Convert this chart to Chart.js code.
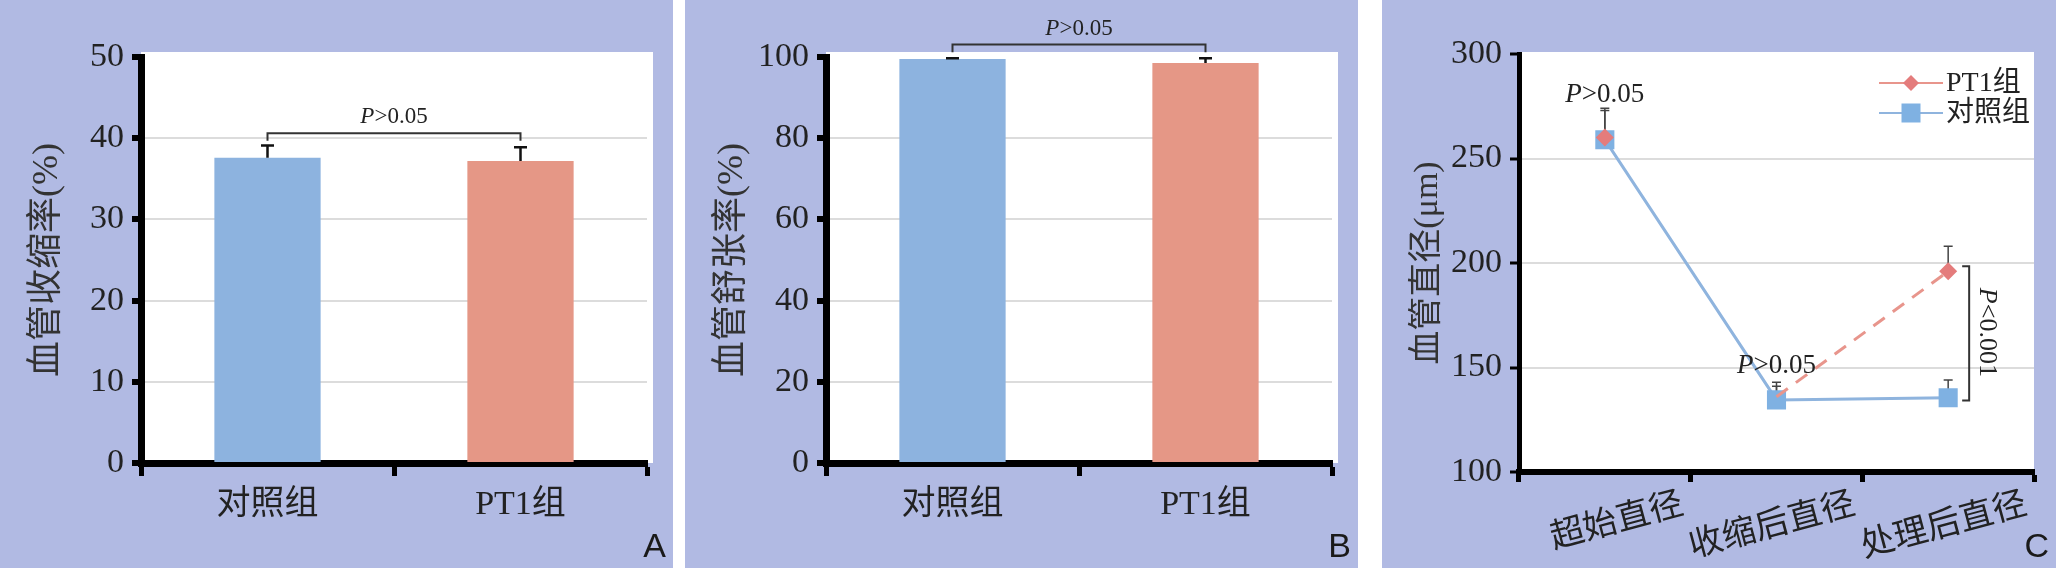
<!DOCTYPE html>
<html lang="zh">
<head>
<meta charset="utf-8">
<title>血管收缩率 / 舒张率 / 直径</title>
<script src="https://cdn.jsdelivr.net/npm/chart.js@4.4.1/dist/chart.umd.min.js"></script>
<style>
  html, body { margin: 0; padding: 0; background: #fff; }
  body { width: 2056px; height: 568px; position: relative; overflow: hidden; }
  .panel { position: absolute; top: 0; height: 568px; background: #b1bae3; }
  canvas { display: block; }
</style>
</head>
<body>
<div class="panel" style="left:0;width:673px"><canvas id="cA" width="673" height="568"></canvas></div>
<div class="panel" style="left:685px;width:673px"><canvas id="cB" width="673" height="568"></canvas></div>
<div class="panel" style="left:1382px;width:674px"><canvas id="cC" width="674" height="568"></canvas></div>

<script>
// values
const groups = ['对照组', 'PT1组'];
const contractRate = [37.6, 37.2];   // 血管收缩率 (%)
const contractSd = [1.5, 1.7];
const dilateRate = [99.5, 98.5];     // 血管舒张率 (%)
const dilateSd = [0.2, 1.2];

const stages = ['超始直径', '收缩后直径', '处理后直径'];
const pt1Diam = [260, 136, 196];     // 血管直径 (μm)
const pt1Sd = [14, 7, 12];
const ctrlDiam = [259, 134.5, 135.5];
const ctrlSd = [14, 6.5, 8.5];

const barColors = ['#8db3df', '#e59786'];
const SERIF = "'Liberation Serif', 'Noto Sans CJK SC', serif";
Chart.defaults.font.family = SERIF;
Chart.defaults.color = '#222';

// "P" in italics, the rest upright
function drawP(ctx, rest, x, y, size, rot) {
  ctx.save();
  ctx.translate(x, y);
  if (rot) ctx.rotate(rot);
  ctx.fillStyle = '#222';
  ctx.textBaseline = 'middle';
  ctx.textAlign = 'left';
  ctx.font = 'italic ' + size + 'px ' + SERIF;
  const wP = ctx.measureText('P').width;
  ctx.font = size + 'px ' + SERIF;
  const wR = ctx.measureText(rest).width;
  const x0 = -(wP + wR) / 2;
  ctx.font = 'italic ' + size + 'px ' + SERIF;
  ctx.fillText('P', x0, 0);
  ctx.font = size + 'px ' + SERIF;
  ctx.fillText(rest, x0 + wP, 0);
  ctx.restore();
}

const plotBg = {
  id: 'plotBg',
  beforeDraw(chart, args, o) {
    const a = chart.chartArea, ctx = chart.ctx;
    ctx.save();
    ctx.fillStyle = '#fff';
    ctx.fillRect(a.left, a.top - o.top, a.right - a.left + o.right, a.bottom - a.top + o.top);
    ctx.restore();
  }
};

function drawErr(chart, o) {
  const ctx = chart.ctx, ys = chart.scales.y;
  chart.data.datasets.forEach((ds, di) => {
    if (!ds.sd) return;
    const meta = chart.getDatasetMeta(di);
    ds.data.forEach((v, i) => {
      const x = meta.data[i].x;
      const y0 = ys.getPixelForValue(v), y1 = ys.getPixelForValue(v + ds.sd[i]);
      ctx.save();
      ctx.strokeStyle = o.color;
      ctx.lineWidth = o.width;
      ctx.beginPath();
      ctx.moveTo(x, y0); ctx.lineTo(x, y1);
      ctx.moveTo(x - o.cap / 2, y1); ctx.lineTo(x + o.cap / 2, y1);
      ctx.stroke();
      ctx.restore();
    });
  });
}

const errBars = {
  id: 'errBars',
  beforeDatasetsDraw(chart, args, o) { if (o.before) drawErr(chart, o); },
  afterDatasetsDraw(chart, args, o) { if (!o.before) drawErr(chart, o); }
};

const bracket = {
  id: 'bracket',
  afterDraw(chart, args, o) {
    const ctx = chart.ctx, ys = chart.scales.y, meta = chart.getDatasetMeta(0);
    const x1 = meta.data[0].x, x2 = meta.data[1].x;
    const yt = ys.getPixelForValue(o.at), yl = ys.getPixelForValue(o.leg);
    ctx.save();
    ctx.strokeStyle = '#333';
    ctx.lineWidth = 2;
    ctx.beginPath();
    ctx.moveTo(x1, yl); ctx.lineTo(x1, yt); ctx.lineTo(x2, yt); ctx.lineTo(x2, yl);
    ctx.stroke();
    ctx.restore();
    drawP(ctx, '>0.05', (x1 + x2) / 2, ys.getPixelForValue(o.textAt), o.size);
  }
};

const tag = {
  id: 'tag',
  afterDraw(chart, args, o) {
    const ctx = chart.ctx;
    ctx.save();
    ctx.fillStyle = '#1a1a1a';
    ctx.font = "34px 'Liberation Sans', sans-serif";
    ctx.textAlign = 'right';
    ctx.textBaseline = 'alphabetic';
    ctx.fillText(o.text, chart.width - 7, 557);
    ctx.restore();
  }
};

function barPanel(id, vals, sds, opt) {
  return new Chart(document.getElementById(id), {
    type: 'bar',
    data: {
      labels: groups,
      datasets: [{ data: vals, sd: sds, backgroundColor: barColors, categoryPercentage: 1, barPercentage: 0.42 }]
    },
    options: {
      responsive: false, animation: false, devicePixelRatio: 1,
      layout: { padding: { top: 57, right: 26, left: 0, bottom: 0 } },
      plugins: {
        legend: { display: false },
        tooltip: { enabled: false },
        plotBg: { top: 5, right: 6 },
        errBars: { color: '#111', width: 2.5, cap: 13 },
        bracket: opt.bracket,
        tag: { text: opt.tag }
      },
      scales: {
        x: {
          grid: { offset: true, drawOnChartArea: false, tickLength: 13, tickWidth: 5, tickColor: '#000' },
          border: { color: '#000', width: 7 },
          ticks: { color: '#222', font: { family: SERIF, size: 34 }, padding: 9 },
          afterFit: s => { s.height = 105; }
        },
        y: {
          min: 0, max: opt.max,
          ticks: { stepSize: opt.step, color: '#222', font: { family: SERIF, size: 34 }, padding: 8 },
          grid: {
            color: c => (c.tick.value === 0 || c.tick.value === opt.max) ? 'rgba(0,0,0,0)' : '#dcdcdc',
            lineWidth: 2, tickLength: 9, tickWidth: 6, tickColor: '#000'
          },
          border: { color: '#000', width: 7 },
          title: { display: true, text: opt.title, color: '#333', font: { family: SERIF, size: 36 }, padding: { top: 26, bottom: 0 } },
          afterFit: s => { s.width = 141; }
        }
      }
    },
    plugins: [plotBg, errBars, bracket, tag]
  });
}

barPanel('cA', contractRate, contractSd, {
  max: 50, step: 10, title: '血管收缩率(%)', tag: 'A',
  bracket: { at: 40.6, leg: 39.7, textAt: 42.6, size: 23 }
});
barPanel('cB', dilateRate, dilateSd, {
  max: 100, step: 20, title: '血管舒张率(%)', tag: 'B',
  bracket: { at: 103.1, leg: 101.2, textAt: 107, size: 23 }
});

// panel C extras: legend, significance marks
const lineLegend = {
  id: 'lineLegend',
  afterDraw(chart, args, o) {
    const ctx = chart.ctx;
    chart.data.datasets.forEach((ds, i) => {
      const y = o.y + i * o.gap, cx = o.x + o.len / 2;
      ctx.save();
      ctx.strokeStyle = ds.borderColor;
      ctx.lineWidth = 2;
      ctx.beginPath(); ctx.moveTo(o.x, y); ctx.lineTo(o.x + o.len, y); ctx.stroke();
      ctx.fillStyle = ds.pointBackgroundColor;
      ctx.beginPath();
      if (ds.pointStyle === 'rectRot') {
        ctx.moveTo(cx, y - 8); ctx.lineTo(cx + 8, y); ctx.lineTo(cx, y + 8); ctx.lineTo(cx - 8, y);
        ctx.closePath();
      } else {
        ctx.rect(cx - 9.5, y - 9.5, 19, 19);
      }
      ctx.fill();
      ctx.fillStyle = '#222';
      ctx.font = '28px ' + SERIF;
      ctx.textBaseline = 'middle';
      ctx.fillText(ds.label, o.x + o.len + 3, y + 1);
      ctx.restore();
    });
  }
};

const sigMarks = {
  id: 'sigMarks',
  afterDraw(chart) {
    const ctx = chart.ctx, ys = chart.scales.y, xs = chart.scales.x;
    drawP(ctx, '>0.05', xs.getPixelForValue(0), ys.getPixelForValue(280.2), 27);
    drawP(ctx, '>0.05', xs.getPixelForValue(1), ys.getPixelForValue(150.7), 27);
    const bx = xs.getPixelForValue(2) + 21;
    const yt = ys.getPixelForValue(198.4), yb = ys.getPixelForValue(134.2);
    ctx.save();
    ctx.strokeStyle = '#333';
    ctx.lineWidth = 2;
    ctx.beginPath();
    ctx.moveTo(bx - 7, yt); ctx.lineTo(bx, yt); ctx.lineTo(bx, yb); ctx.lineTo(bx - 7, yb);
    ctx.stroke();
    ctx.restore();
    drawP(ctx, '<0.001', bx + 18, ys.getPixelForValue(166.8), 26, Math.PI / 2);
  }
};

new Chart(document.getElementById('cC'), {
  type: 'line',
  data: {
    labels: stages,
    datasets: [
      {
        label: 'PT1组', data: pt1Diam, sd: pt1Sd,
        borderColor: '#e8958c', borderWidth: 3, tension: 0,
        pointStyle: 'rectRot', pointRadius: [9, 0, 9], pointHoverRadius: 0,
        pointBackgroundColor: '#e47c7c', pointBorderWidth: 0,
        segment: {
          borderColor: c => c.p0DataIndex === 0 ? 'rgba(0,0,0,0)' : '#e8958c',
          borderDash: c => c.p0DataIndex === 1 ? [14, 10] : undefined
        }
      },
      {
        label: '对照组', data: ctrlDiam, sd: ctrlSd,
        borderColor: '#8fb4de', borderWidth: 3, tension: 0,
        pointStyle: 'rect', pointRadius: 13.5, pointHoverRadius: 0,
        pointBackgroundColor: '#7fb1e2', pointBorderWidth: 0
      }
    ]
  },
  options: {
    responsive: false, animation: false, devicePixelRatio: 1,
    layout: { padding: { top: 54, right: 22, left: 0, bottom: 0 } },
    plugins: {
      legend: { display: false },
      tooltip: { enabled: false },
      plotBg: { top: 2, right: 0 },
      errBars: { before: true, color: '#444', width: 1.5, cap: 9 },
      lineLegend: { x: 497, len: 64, y: 83, gap: 30 },
      tag: { text: 'C' }
    },
    scales: {
      x: {
        offset: true,
        grid: { offset: true, drawOnChartArea: false, tickLength: 10, tickWidth: 5, tickColor: '#000' },
        border: { color: '#000', width: 6 },
        ticks: { color: '#222', font: { family: SERIF, size: 34 }, minRotation: 15, maxRotation: 15, labelOffset: 78, padding: 3 },
        afterFit: s => { s.height = 96; }
      },
      y: {
        min: 100, max: 300,
        ticks: { stepSize: 50, color: '#222', font: { family: SERIF, size: 34 }, padding: 8 },
        grid: {
          color: c => (c.tick.value === 100 || c.tick.value === 300) ? 'rgba(0,0,0,0)' : '#dcdcdc',
          lineWidth: 2, tickLength: 9, tickWidth: 3, tickColor: '#000'
        },
        border: { color: '#000', width: 5 },
        title: { display: true, text: '血管直径(μm)', color: '#333', font: { family: SERIF, size: 34 }, padding: { top: 26, bottom: 0 } },
        afterFit: s => { s.width = 137; }
      }
    }
  },
  plugins: [plotBg, errBars, lineLegend, sigMarks, tag]
});
</script>
</body>
</html>
